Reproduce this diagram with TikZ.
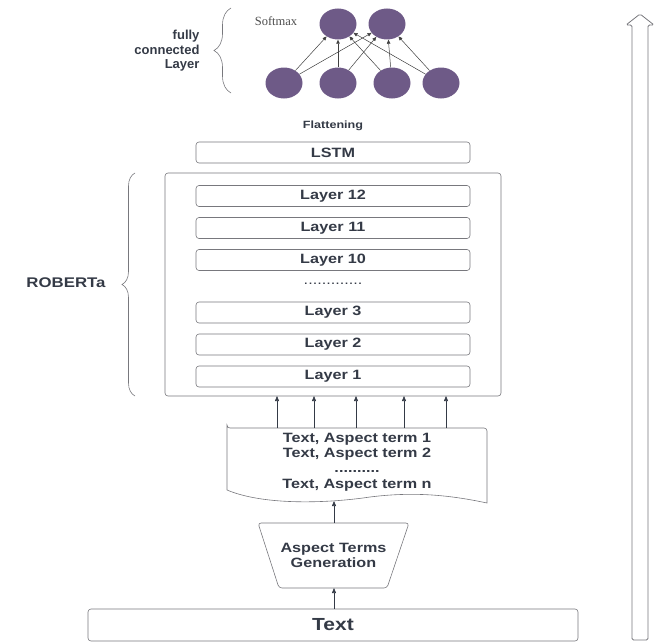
\documentclass[tikz,border=0pt]{standalone}
\usepackage{fontspec}
\setmainfont[FakeStretch=1.2]{Liberation Sans}
\newfontfamily\plainsans{Liberation Sans}
\newfontfamily\serifff{Liberation Serif}
\usetikzlibrary{arrows.meta,decorations.pathreplacing,shapes.geometric}
\definecolor{txt}{RGB}{52,58,70}
\definecolor{bord}{RGB}{120,120,125}
\definecolor{neuron}{RGB}{110,90,135}
\tikzset{
  layerbox/.style={draw=bord, rounded corners=3pt, minimum width=274pt, minimum height=21pt, font=\bfseries\fontsize{13.5}{15}\selectfont, text=txt, line width=0.6pt},
  neur/.style={ellipse, fill=neuron, minimum width=37pt, minimum height=31pt, inner sep=0pt},
  conn/.style={-{Triangle[length=5pt,width=4pt]}, draw=txt, line width=0.6pt},
  nnconn/.style={-{Triangle[length=4pt,width=3.5pt]}, draw=black!75, line width=0.5pt},
  lbl/.style={font=\bfseries\fontsize{13.5}{15}\selectfont, text=txt, align=center},
  brc/.style={draw=bord, line width=0.6pt, decorate}
}
\begin{document}
\begin{tikzpicture}[x=1pt,y=-1pt]
\useasboundingbox (0,0) rectangle (655,642);
% fully connected layer
\node[anchor=east, align=right, text=txt, font=\plainsans\bfseries\fontsize{13}{14.5}\selectfont] (fcl) at (203,51) {fully\\connected\\Layer};
\coordinate (b1s) at (231,93);
\coordinate (b1e) at (231,8);
\draw[brc, decoration={brace, amplitude=17pt}] (b1s) -- (b1e);
\node[font=\serifff\fontsize{12.5}{14}\selectfont, text=black!70] (softmax) at (276,21) {Softmax};
\node[neur] (t1) at (338,24) {};
\node[neur] (t2) at (387,24) {};
\node[neur] (n1) at (284,83) {};
\node[neur] (n2) at (338,83) {};
\node[neur] (n3) at (392,83) {};
\node[neur] (n4) at (441,83) {};
\foreach \s in {n1,n2,n3,n4}{
  \foreach \t in {t1,t2}{
    \draw[nnconn] (\s) -- (\t);
  }
}
% flattening and LSTM
\node[font=\bfseries\fontsize{10.5}{12}\selectfont, text=txt] (flat) at (333,126) {Flattening};
\node[layerbox] (lstm) at (333,152.5) {LSTM};
% roberta
\node[draw=bord, rounded corners=3pt, minimum width=336pt, minimum height=223pt, line width=0.6pt] (rob) at (333,284.5) {};
\node[layerbox] (l12) at (333,196) {Layer 12};
\node[layerbox] (l11) at (333,228) {Layer 11};
\node[layerbox] (l10) at (333,260) {Layer 10};
\node[font=\fontsize{13.5}{15}\selectfont, text=txt] (dots) at (333,284) {.............};
\node[layerbox] (l3) at (333,312.5) {Layer 3};
\node[layerbox] (l2) at (333,344.5) {Layer 2};
\node[layerbox] (l1) at (333,376.5) {Layer 1};
\node[lbl, font=\bfseries\fontsize{14}{16}\selectfont] (roblbl) at (66,283) {ROBERTa};
\coordinate (b2s) at (135,396);
\coordinate (b2e) at (135,173);
\draw[brc, decoration={brace, amplitude=13pt}] (b2s) -- (b2e);
% document shape
\coordinate (dtl) at (227,428);
\coordinate (dtr) at (487,428);
\coordinate (dbl) at (227,490);
\coordinate (dbr) at (487,503);
\draw[draw=bord, line width=0.6pt, fill=white] (dbl) -- ([yshift=3pt]dtl) [rounded corners=3pt] -- (dtl) -- (dtr) [sharp corners] -- (dbr)
  .. controls (445,494) and (410,492) .. (370,497)
  .. controls (330,503) and (265,506) .. (dbl) -- cycle;
\node[lbl, font=\bfseries\fontsize{13.5}{15.3}\selectfont] (doc) at (357,462) {Text, Aspect term 1\\Text, Aspect term 2\\..........\\Text, Aspect term n};
\coordinate (docbot) at (334,501);
\foreach \x in {277,314,356,404,446}{
  \draw[conn] (\x,428) -- (\x,396);
}
% trapezoid
\coordinate (ttl) at (258,523);
\coordinate (ttr) at (409,523);
\coordinate (tbr) at (387,588);
\coordinate (tbl) at (279,588);
\draw[draw=bord, line width=0.6pt, rounded corners=3pt] (ttl) -- (ttr) -- (tbr) -- (tbl) -- cycle;
\node[lbl] (traplbl) at (333.5,555) {Aspect Terms\\Generation};
\coordinate (trapn) at (334,523);
\coordinate (traps) at (334,588);
\draw[conn] (trapn) -- (docbot);
% Text box
\node[draw=bord, rounded corners=3pt, minimum width=490pt, minimum height=32pt, line width=0.6pt, font=\bfseries\fontsize{17.5}{19}\selectfont, text=txt] (textbox) at (333,625) {Text};
\draw[conn] (textbox.north -| traps) -- (traps);
% right big arrow
\draw[draw=bord, line width=0.8pt, rounded corners=1.5pt] (632,640) -- (632,25) -- (626,25) -- (640,14) -- (654,25) -- (648,25) -- (648,640) -- cycle;
\end{tikzpicture}
\end{document}
